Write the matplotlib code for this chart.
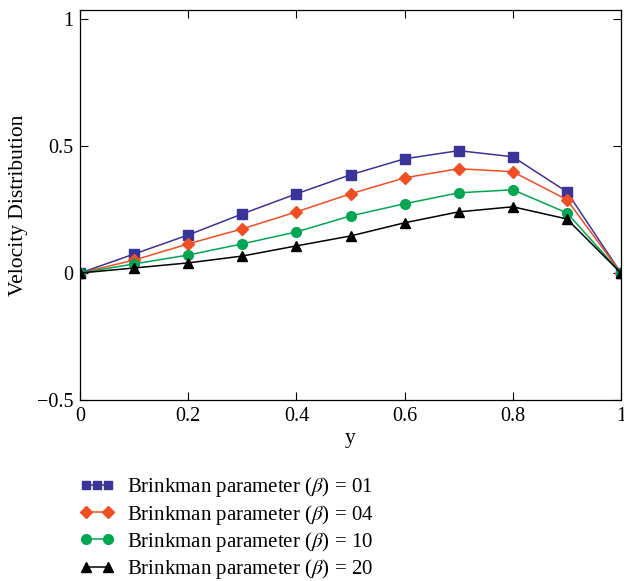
import matplotlib
matplotlib.use("Agg")
import matplotlib.pyplot as plt
from matplotlib.legend_handler import HandlerLine2D

plt.rcParams["font.family"] = ["Liberation Serif", "DejaVu Serif"]
plt.rcParams["mathtext.fontset"] = "stix"

# =====================================================
# DATA
# =====================================================

y_pos = [0.0, 0.1, 0.2, 0.3, 0.4, 0.5, 0.6, 0.7, 0.8, 0.9, 1.0]

vel_b01 = [0.0, 0.075, 0.150, 0.233, 0.312, 0.387, 0.450, 0.482, 0.458, 0.320, 0.0]
vel_b04 = [0.0, 0.051, 0.115, 0.174, 0.241, 0.312, 0.375, 0.411, 0.399, 0.289, 0.0]
vel_b10 = [0.0, 0.036, 0.071, 0.115, 0.162, 0.225, 0.273, 0.316, 0.328, 0.237, 0.0]
vel_b20 = [0.0, 0.020, 0.040, 0.067, 0.107, 0.146, 0.198, 0.241, 0.261, 0.213, 0.0]

labels = [
    r"Brinkman parameter ($\beta$) = 01",
    r"Brinkman parameter ($\beta$) = 04",
    r"Brinkman parameter ($\beta$) = 10",
    r"Brinkman parameter ($\beta$) = 20",
]

x_ticks = [0, 0.2, 0.4, 0.6, 0.8, 1]
x_tick_labels = ["0", "0.2", "0.4", "0.6", "0.8", "1"]
y_ticks = [-0.5, 0, 0.5, 1]
y_tick_labels = ["\u22120.5", "0", "0.5", "1"]

# =====================================================
# FIGURE
# =====================================================

fig = plt.figure(figsize=(6.24, 5.81), dpi=100)
ax = fig.add_axes([0.1282, 0.3115, 0.867, 0.6713])

l1, = ax.plot(y_pos, vel_b01, color="#3a3398", marker="s", markersize=6.5,
              linewidth=1.1, label=labels[0])
l2, = ax.plot(y_pos, vel_b04, color="#f04e23", marker="D", markersize=6,
              linewidth=1.1, label=labels[1])
l3, = ax.plot(y_pos, vel_b10, color="#00a651", marker="o", markersize=7,
              linewidth=1.1, label=labels[2])
l4, = ax.plot(y_pos, vel_b20, color="black", marker="^", markersize=7,
              linewidth=1.1, label=labels[3])

ax.set_xlim(0, 1)
ax.set_ylim(-0.5, 1.036)
ax.set_xticks(x_ticks)
ax.set_xticklabels(x_tick_labels)
ax.set_yticks(y_ticks)
ax.set_yticklabels(y_tick_labels)

ax.tick_params(direction="in", length=6, labelsize=14.5, top=True, right=True,
               width=0.8, pad=5)
for spine in ax.spines.values():
    spine.set_linewidth(0.9)

ax.set_xlabel("y", fontsize=15.5, labelpad=2)
ax.set_ylabel("Velocity Distribution", fontsize=15.5, labelpad=6)


def small_squares(legend_line, orig_line):
    legend_line.update_from(orig_line)
    legend_line.set_markersize(5.2)


fig.legend(
    handles=[l1, l2, l3, l4],
    loc="upper left",
    bbox_to_anchor=(0.115, 0.196),
    borderaxespad=0,
    frameon=False,
    fontsize=15,
    numpoints=2,
    handlelength=1.65,
    handletextpad=0.6,
    labelspacing=0.15,
    handler_map={l1: HandlerLine2D(numpoints=3, update_func=small_squares)},
)

fig.savefig("out.png", dpi=100)
